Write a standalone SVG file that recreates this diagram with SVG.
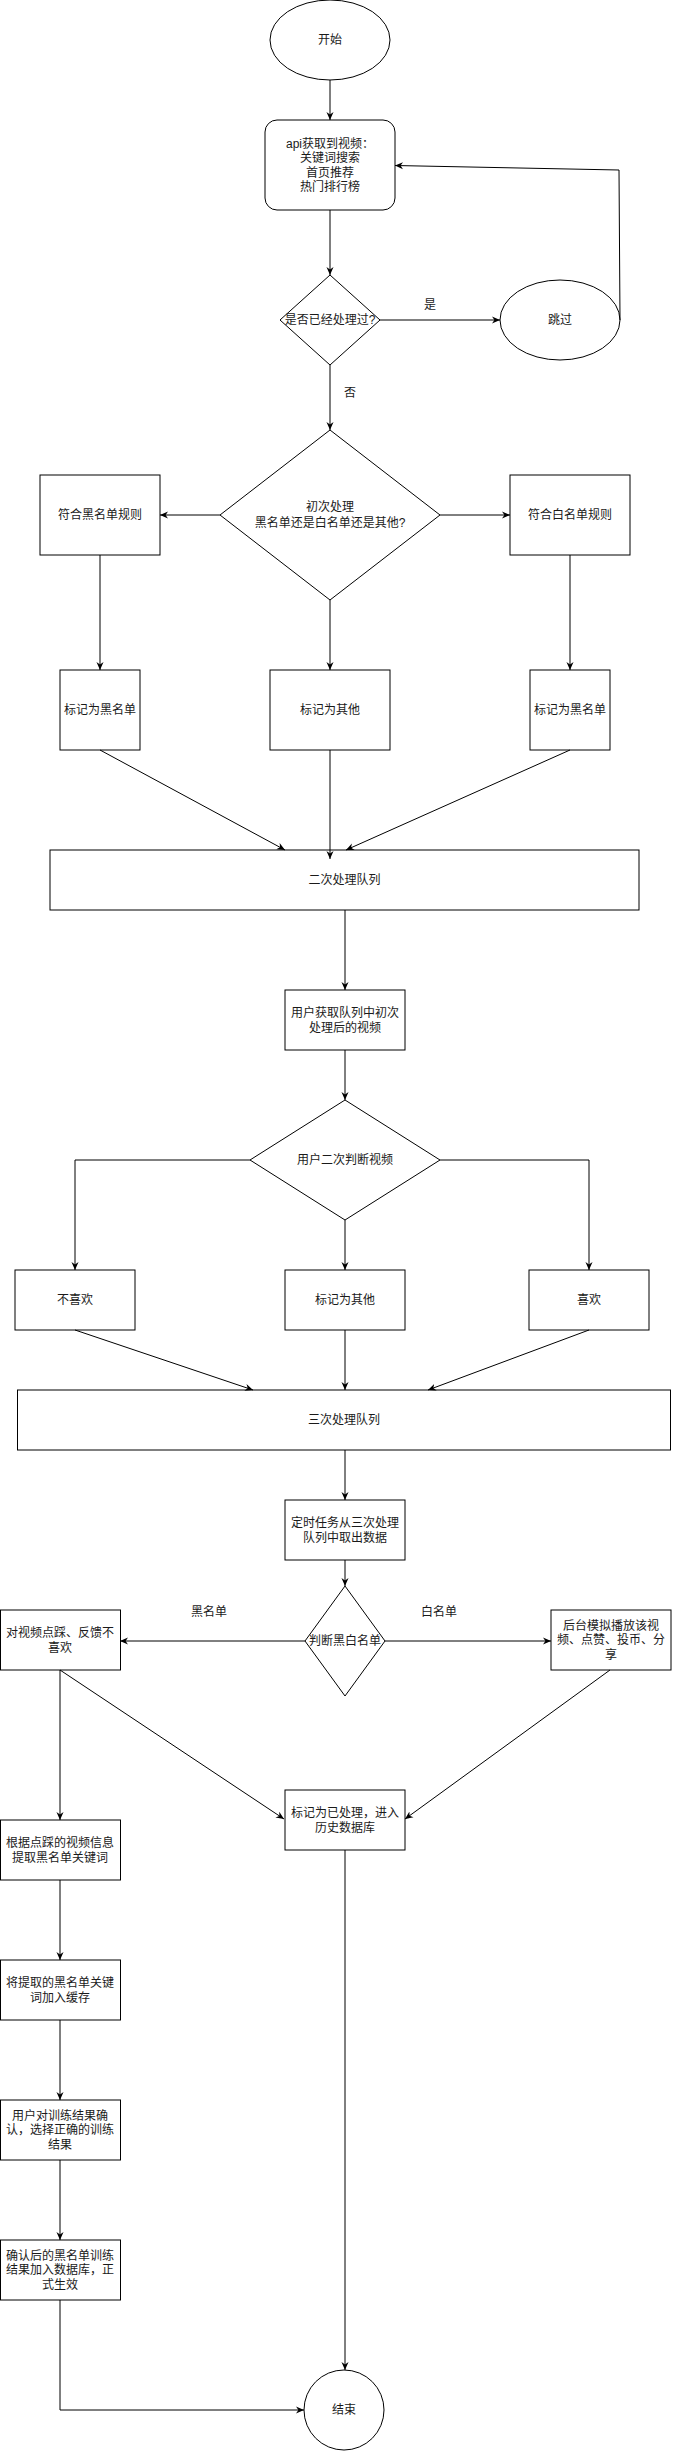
<svg xmlns="http://www.w3.org/2000/svg" width="674" height="2451" viewBox="0 0 674 2451">
<defs>
<style>
.n{fill:#fff;stroke:#000;stroke-width:1}
.c{fill:none;stroke:#000;stroke-width:1}
text{font-family:"Liberation Sans","Noto Sans CJK SC",sans-serif;font-size:12px;fill:#1a1a1a;text-anchor:middle;dominant-baseline:central}
</style>
<marker id="arr" viewBox="0 0 10 10" refX="10" refY="5" markerWidth="8" markerHeight="8" markerUnits="userSpaceOnUse" orient="auto">
<path d="M0,0.6 L10,5 L0,9.4 L3,5 z" fill="#000"/>
</marker>
</defs>
<rect x="0" y="0" width="674" height="2451" fill="#fff"/>

<g id="start"><ellipse class="n" cx="330" cy="40" rx="60" ry="40"/><text x="330" y="40">开始</text></g>
<g id="fetch"><rect class="n" x="265" y="120" width="130" height="90" rx="12" ry="12"/>
<text x="330" y="143.5">api获取到视频：</text><text x="330" y="158">关键词搜索</text><text x="330" y="172.5">首页推荐</text><text x="330" y="187">热门排行榜</text></g>
<g id="processed"><path class="n" d="M330,275 L380,320 L330,365 L280,320 Z"/><text x="330" y="320">是否已经处理过?</text></g>
<g id="skip"><ellipse class="n" cx="560" cy="320" rx="60" ry="40"/><text x="560" y="320">跳过</text></g>
<g id="first"><path class="n" d="M330,430 L440,515 L330,600 L220,515 Z"/><text x="330" y="507">初次处理</text><text x="330" y="522.5">黑名单还是白名单还是其他?</text></g>
<g id="blackrule"><rect class="n" x="40" y="475" width="120" height="80"/><text x="100" y="515">符合黑名单规则</text></g>
<g id="whiterule"><rect class="n" x="510" y="475" width="120" height="80"/><text x="570" y="515">符合白名单规则</text></g>
<g id="markblack1"><rect class="n" x="60" y="670" width="80" height="80"/><text x="100" y="710">标记为黑名单</text></g>
<g id="markother1"><rect class="n" x="270" y="670" width="120" height="80"/><text x="330" y="710">标记为其他</text></g>
<g id="markblack2"><rect class="n" x="530" y="670" width="80" height="80"/><text x="570" y="710">标记为黑名单</text></g>
<g id="queue2"><rect class="n" x="50" y="850" width="589" height="60"/><text x="344.5" y="880">二次处理队列</text></g>
<g id="userfetch"><rect class="n" x="285" y="990" width="120" height="60"/><text x="345" y="1012.5">用户获取队列中初次</text><text x="345" y="1027.5">处理后的视频</text></g>
<g id="userjudge"><path class="n" d="M345,1100 L440,1160 L345,1220 L250,1160 Z"/><text x="345" y="1160">用户二次判断视频</text></g>
<g id="dislike"><rect class="n" x="15" y="1270" width="120" height="60"/><text x="75" y="1300">不喜欢</text></g>
<g id="markother2"><rect class="n" x="285" y="1270" width="120" height="60"/><text x="345" y="1300">标记为其他</text></g>
<g id="like"><rect class="n" x="529" y="1270" width="120" height="60"/><text x="589" y="1300">喜欢</text></g>
<g id="queue3"><rect class="n" x="17.5" y="1390" width="653" height="60"/><text x="344" y="1420">三次处理队列</text></g>
<g id="timer"><rect class="n" x="285" y="1500" width="120" height="60"/><text x="345" y="1522.5">定时任务从三次处理</text><text x="345" y="1537.5">队列中取出数据</text></g>
<g id="bwjudge"><path class="n" d="M345,1586 L385,1641 L345,1696 L305,1641 Z"/><text x="345" y="1641">判断黑白名单</text></g>
<g id="dislikefb"><rect class="n" x="0.5" y="1610" width="120" height="60"/><text x="60" y="1633">对视频点踩、反馈不</text><text x="60" y="1648">喜欢</text></g>
<g id="simulate"><rect class="n" x="551" y="1610" width="120" height="60"/><text x="611" y="1625.5">后台模拟播放该视</text><text x="611" y="1640">频、点赞、投币、分</text><text x="611" y="1654.5">享</text></g>
<g id="history"><rect class="n" x="285" y="1790" width="120" height="60"/><text x="345" y="1812.5">标记为已处理，进入</text><text x="345" y="1827.5">历史数据库</text></g>
<g id="extract"><rect class="n" x="0.5" y="1820" width="120" height="60"/><text x="60" y="1842.5">根据点踩的视频信息</text><text x="60" y="1857.5">提取黑名单关键词</text></g>
<g id="cache"><rect class="n" x="0.5" y="1960" width="120" height="60"/><text x="60" y="1982.5">将提取的黑名单关键</text><text x="60" y="1997.5">词加入缓存</text></g>
<g id="confirm"><rect class="n" x="0.5" y="2100" width="120" height="60"/><text x="60" y="2115.5">用户对训练结果确</text><text x="60" y="2130">认，选择正确的训练</text><text x="60" y="2144.5">结果</text></g>
<g id="effective"><rect class="n" x="0.5" y="2240" width="120" height="60"/><text x="60" y="2255.5">确认后的黑名单训练</text><text x="60" y="2270">结果加入数据库，正</text><text x="60" y="2284.5">式生效</text></g>
<g id="end"><ellipse class="n" cx="344" cy="2410" rx="40" ry="40"/><text x="344" y="2410">结束</text></g>

<g id="connectors">
<path class="c" marker-end="url(#arr)" d="M330,80 L330,120"/>
<path class="c" marker-end="url(#arr)" d="M330,210 L330,275"/>
<path class="c" marker-end="url(#arr)" d="M380,320 L500,320"/>
<path class="c" marker-end="url(#arr)" d="M620,320 L619,170 L395,165.5"/>
<path class="c" marker-end="url(#arr)" d="M330,365 L330,430"/>
<path class="c" marker-end="url(#arr)" d="M220,515 L160,515"/>
<path class="c" marker-end="url(#arr)" d="M440,515 L510,515"/>
<path class="c" marker-end="url(#arr)" d="M100,555 L100,670"/>
<path class="c" marker-end="url(#arr)" d="M330,600 L330,670"/>
<path class="c" marker-end="url(#arr)" d="M570,555 L570,670"/>
<path class="c" marker-end="url(#arr)" d="M100,750 L285,850"/>
<path class="c" marker-end="url(#arr)" d="M330,750 L330,859"/>
<path class="c" marker-end="url(#arr)" d="M570,750 L346,850"/>
<path class="c" marker-end="url(#arr)" d="M345,910 L345,990"/>
<path class="c" marker-end="url(#arr)" d="M345,1050 L345,1100"/>
<path class="c" marker-end="url(#arr)" d="M250,1160 L75,1160 L75,1270"/>
<path class="c" marker-end="url(#arr)" d="M345,1220 L345,1270"/>
<path class="c" marker-end="url(#arr)" d="M440,1160 L589,1160 L589,1270"/>
<path class="c" marker-end="url(#arr)" d="M75,1330 L253,1390"/>
<path class="c" marker-end="url(#arr)" d="M345,1330 L345,1390"/>
<path class="c" marker-end="url(#arr)" d="M589,1330 L428,1390"/>
<path class="c" marker-end="url(#arr)" d="M345,1450 L345,1500"/>
<path class="c" marker-end="url(#arr)" d="M345,1560 L345,1586"/>
<path class="c" marker-end="url(#arr)" d="M305,1641 L120,1641"/>
<path class="c" marker-end="url(#arr)" d="M385,1641 L551,1641"/>
<path class="c" marker-end="url(#arr)" d="M60,1670 L284,1819"/>
<path class="c" marker-end="url(#arr)" d="M610,1670 L405,1819"/>
<path class="c" marker-end="url(#arr)" d="M60,1670 L60,1820"/>
<path class="c" marker-end="url(#arr)" d="M60,1880 L60,1960"/>
<path class="c" marker-end="url(#arr)" d="M60,2020 L60,2100"/>
<path class="c" marker-end="url(#arr)" d="M60,2160 L60,2240"/>
<path class="c" marker-end="url(#arr)" d="M60,2300 L60,2410 L304,2410"/>
<path class="c" marker-end="url(#arr)" d="M345,1850 L345,2370"/>
<text x="430" y="305">是</text>
<text x="350" y="393">否</text>
<text x="209" y="1612">黑名单</text>
<text x="439" y="1612">白名单</text>
</g>
</svg>
